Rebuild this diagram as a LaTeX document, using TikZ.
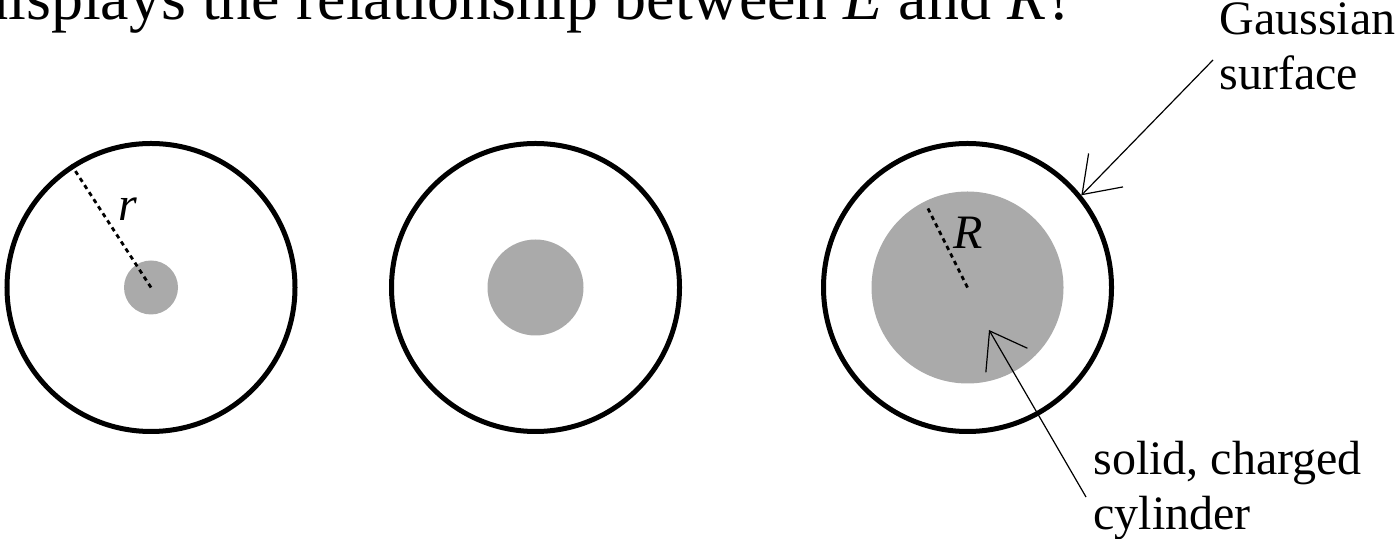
\documentclass[tikz,border=0pt]{standalone}
\usepackage{fontspec}
\setmainfont{Liberation Serif}
\usetikzlibrary{arrows.meta}
\definecolor{chargegray}{RGB}{170,170,170}
\tikzset{
  gauss/.style={circle, draw, line width=2.5pt, minimum size=144pt, inner sep=0pt},
  charge/.style={circle, fill=chargegray, inner sep=0pt},
  radline/.style={line width=1.4pt, dash pattern=on 2.2pt off 2pt},
  pointer/.style={-{Straight Barb[length=17pt,width=24pt]}, line width=0.6pt},
  lbl/.style={inner sep=0pt, align=left, font=\fontsize{24}{27.5}\selectfont}
}

\begin{document}
\begin{tikzpicture}[x=0.5pt, y=0.5pt]
% canvas in pixels of the 1400 x 539 sketch, y upwards
\useasboundingbox (0,0) rectangle (1400,539);
\def\CY{251.5}
% question line, cut off by the top and left edges
\node[anchor=base west, inner sep=0pt, font=\fontsize{32}{36}\selectfont] (question)
  at (-24,519) {displays the relationship between \textit{E} and \textit{R}?};
% three cylinders of growing radius inside the same Gaussian surface
\node[charge, minimum size=27pt] (q1) at (151,\CY) {};
\node[charge, minimum size=48pt] (q2) at (535.5,\CY) {};
\node[charge, minimum size=96pt] (q3) at (967.5,\CY) {};
\node[gauss] (g1) at (151,\CY) {};
\node[gauss] (g2) at (535.5,\CY) {};
\node[gauss] (g3) at (967.5,\CY) {};
% radii
\coordinate (rtip) at ([shift={(116.6:91)}]q3.center);
\draw[radline] (g1.center) -- (g1.123.5);
\draw[radline] (q3.center) -- (rtip);
\node[inner sep=0pt, font=\fontsize{24}{27.5}\selectfont\itshape] (rlbl) at (128,330) {r};
\node[inner sep=0pt, font=\fontsize{24}{27.5}\selectfont\itshape] (Rlbl) at (968,306) {R};
% labels with pointers (base = last line)
\node[lbl, anchor=base west] (gausslbl) at (1219,449) {Gaussian\\surface};
\node[lbl, anchor=base west] (cyllbl) at (1093,9) {solid, charged\\cylinder};
\coordinate (gs) at (1213,479);
\coordinate (cs) at (1086,42);
\coordinate (ctip) at ([shift={(21.5,-42.5)}]q3.center);
\draw[pointer] (gs) -- (g3.39.5);
\draw[pointer] (cs) -- (ctip);
\end{tikzpicture}
\end{document}
